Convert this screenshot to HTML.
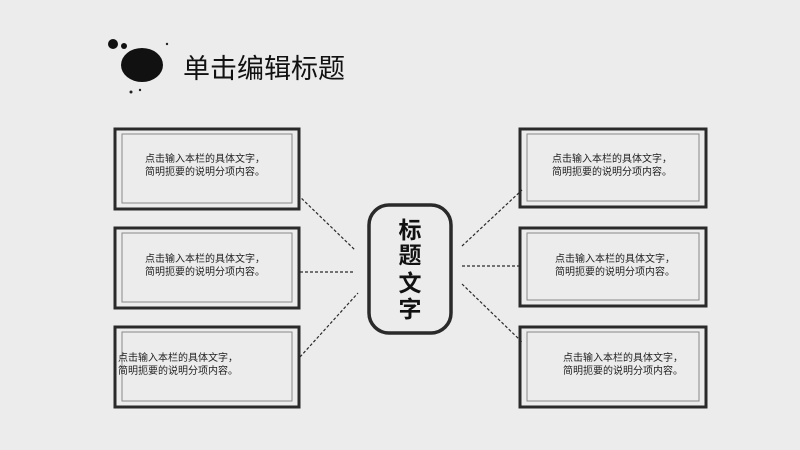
<!DOCTYPE html>
<html><head><meta charset="utf-8"><style>
body{margin:0;background:#ececec;}
svg{display:block}
text{font-family:"Liberation Sans","Noto Sans CJK SC",sans-serif;}
</style></head><body>
<svg width="800" height="450" viewBox="0 0 800 450" xmlns="http://www.w3.org/2000/svg">
<rect width="800" height="450" fill="#ececec"/>
<ellipse cx="142" cy="65" rx="21" ry="17" fill="#111"/>
<circle cx="113" cy="44" r="5" fill="#111"/>
<circle cx="124" cy="46" r="3" fill="#111"/>
<circle cx="131" cy="92" r="1.5" fill="#222"/>
<circle cx="140" cy="90" r="1.2" fill="#222"/>
<circle cx="167" cy="44" r="1.2" fill="#222"/>
<text x="183" y="78" font-size="27" fill="#111">单击编辑标题</text>

<g fill="none" stroke="#2a2a2a">
<g stroke-width="3"><rect x="115" y="129" width="184" height="80"/><rect x="115" y="228" width="184" height="80"/><rect x="115" y="327" width="184" height="80"/>
<rect x="520" y="129" width="186" height="78"/><rect x="520" y="228" width="186" height="78"/><rect x="520" y="327" width="186" height="80"/></g>
<g stroke-width="1" stroke="#888"><rect x="122" y="134" width="170" height="69"/><rect x="122" y="233" width="170" height="69"/><rect x="122" y="332" width="170" height="69"/>
<rect x="527" y="134" width="172" height="67"/><rect x="527" y="233" width="172" height="67"/><rect x="527" y="332" width="172" height="69"/></g>
<rect x="369" y="205" width="82" height="128" rx="20" stroke-width="3.5"/>
<g stroke-width="1.2" stroke-dasharray="3,2">
<line x1="298" y1="195" x2="355" y2="250"/>
<line x1="300" y1="272" x2="355" y2="272"/>
<line x1="300" y1="357" x2="358" y2="293"/>
<line x1="462" y1="246" x2="522" y2="190"/>
<line x1="462" y1="266" x2="522" y2="266"/>
<line x1="462" y1="284" x2="522" y2="342"/>
</g>
</g>
<g font-size="23" font-weight="bold" fill="#111" text-anchor="middle">
<text x="410" y="238">标</text><text x="410" y="263">题</text><text x="410" y="291">文</text><text x="410" y="317">字</text>
</g>
<g font-size="10" fill="#222">
<text x="145" y="162">点击输入本栏的具体文字，</text><text x="145" y="175">简明扼要的说明分项内容。</text>
<text x="145" y="262">点击输入本栏的具体文字，</text><text x="145" y="275">简明扼要的说明分项内容。</text>
<text x="118" y="361">点击输入本栏的具体文字，</text><text x="118" y="374">简明扼要的说明分项内容。</text>
<text x="552" y="162">点击输入本栏的具体文字，</text><text x="552" y="175">简明扼要的说明分项内容。</text>
<text x="555" y="262">点击输入本栏的具体文字，</text><text x="555" y="275">简明扼要的说明分项内容。</text>
<text x="563" y="361">点击输入本栏的具体文字，</text><text x="563" y="374">简明扼要的说明分项内容。</text>
</g>
</svg>
</body></html>
